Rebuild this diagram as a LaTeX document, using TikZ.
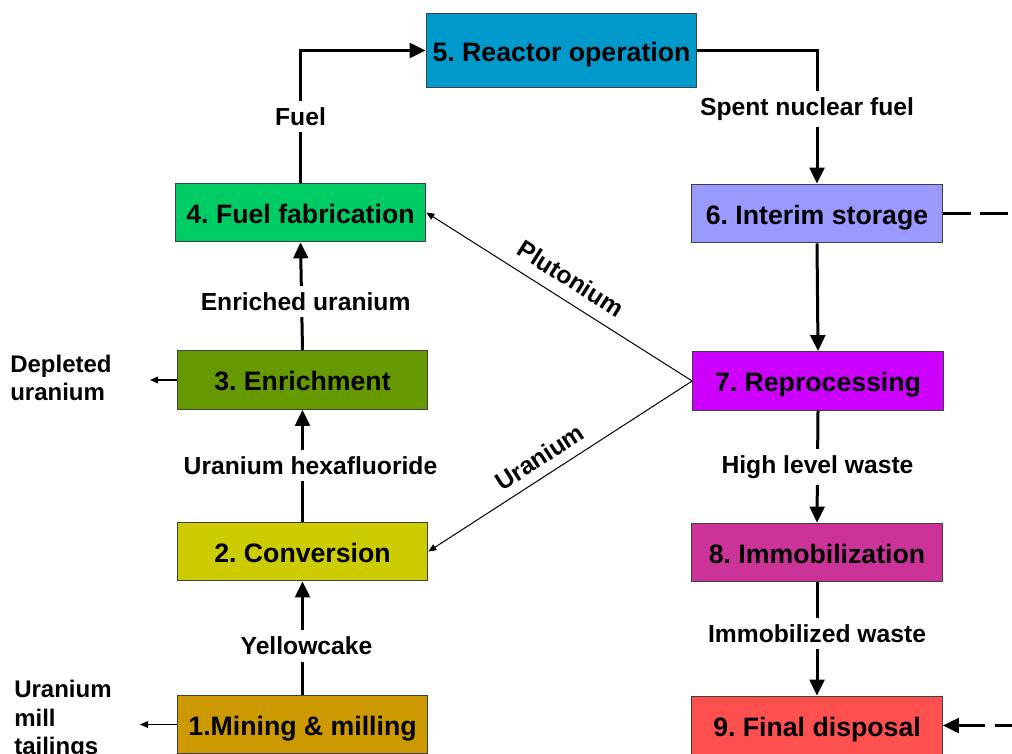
\documentclass[tikz,border=0pt]{standalone}
\usepackage{fontspec}
\setmainfont{Liberation Sans}
\usetikzlibrary{arrows.meta}
\definecolor{reactorblue}{HTML}{0099CC}
\definecolor{fabgreen}{HTML}{00CC66}
\definecolor{enrichgreen}{HTML}{669900}
\definecolor{convyellow}{HTML}{CCCC00}
\definecolor{minegold}{HTML}{CC9900}
\definecolor{storeblue}{HTML}{9999FF}
\definecolor{reprocpurple}{HTML}{CC00FF}
\definecolor{immobpink}{HTML}{CC3399}
\definecolor{disposalred}{HTML}{FF5050}
\frenchspacing

\begin{document}
\begin{tikzpicture}[x=0.75pt, y=-0.75pt,
block/.style = {rectangle, draw=black!75, line width=0.75pt, minimum width=188pt,
                minimum height=44pt, inner sep=2pt, text height=17pt, text depth=1pt,
                font=\fontsize{20}{24}\selectfont\bfseries},
flowtext/.style = {fill=white, inner sep=5pt, font=\fontsize{18.5}{22}\selectfont\bfseries},
slopetext/.style = {sloped, inner sep=2pt, font=\fontsize{18.5}{22}\selectfont\bfseries},
sidetext/.style = {align=left, inner sep=0pt, font=\fontsize{18}{21.5}\selectfont\bfseries},
line/.style = {draw, line width=2.25pt, -{Triangle[length=12pt,width=11pt]}},
thinline/.style = {draw, line width=1pt, -{Triangle[length=6pt,width=5pt]}},
backline/.style = {draw, line width=0.75pt, {Triangle[length=6pt,width=5pt]}-},
dashline/.style = {draw, line width=2.25pt, dash pattern=on 21pt off 7pt}]

\useasboundingbox (0,0) rectangle (1012,753);

\node [block, fill=reactorblue, minimum width=203pt, minimum height=56pt] (reactor) at (561.5,50.5) {5. Reactor operation};
\node [block, fill=fabgreen] (fab) at (300.5,212.5) {4. Fuel fabrication};
\node [block, fill=enrichgreen] (enrich) at (302.5,380) {3. Enrichment};
\node [block, fill=convyellow] (conv) at (302.5,551.5) {2. Conversion};
\node [block, fill=minegold] (mine) at (302.5,724.5) {1.Mining \& milling};
\node [block, fill=storeblue] (store) at (817,213.5) {6. Interim storage};
\node [block, fill=reprocpurple] (reproc) at (818,381) {7. Reprocessing};
\node [block, fill=immobpink] (immob) at (817,552.5) {8. Immobilization};
\node [block, fill=disposalred] (disposal) at (817,725.5) {9. Final disposal};

\node [sidetext, anchor=west] (depleted) at (10,378) {Depleted\\uranium};
\node [sidetext, anchor=west] (tailings) at (14,720) {Uranium\\mill\\tailings};
\coordinate (depletedend) at (150,380);
\coordinate (tailingsend) at (140,724.5);
\coordinate (storeout) at (1012,213.5);
\coordinate (disposalin) at (1012,725.5);

\begin{scope}[every path/.style=line]
\path (fab.north) |- node [flowtext, pos=0.25] {Fuel} (reactor.west);
\path (reactor.east) -| node [flowtext, pos=0.72, xshift=-7.5pt] {Spent nuclear fuel} (store.north);
\path (store.south) -- (reproc.north);
\path (reproc.south) -- node [flowtext] {High level waste} (immob.north);
\path (immob.south) -- node [flowtext, pos=0.45] {Immobilized waste} (disposal.north);
\path (conv.north) -- node [flowtext, xshift=6pt] {Uranium hexafluoride} (enrich.south);
\path (enrich.north) -- node [flowtext, pos=0.45, xshift=3pt] {Enriched uranium} (fab.south);
\path (mine.north) -- node [flowtext, pos=0.43, xshift=3pt] {Yellowcake} (conv.south);
\path [dashline, -] (store.east) -- (storeout);
\path [dashline, dash phase=8pt] (disposalin) -- (disposal.east);
\path [thinline] (enrich.west) -- (depletedend);
\path [thinline] (mine.west) -- (tailingsend);
\path [backline] (fab.east) -- node [slopetext, above=7pt] {Plutonium} (reproc.west);
\path [backline] (conv.east) -- node [slopetext, above=5pt, pos=0.46] {Uranium} (reproc.west);
\end{scope}
\end{tikzpicture}
\end{document}
